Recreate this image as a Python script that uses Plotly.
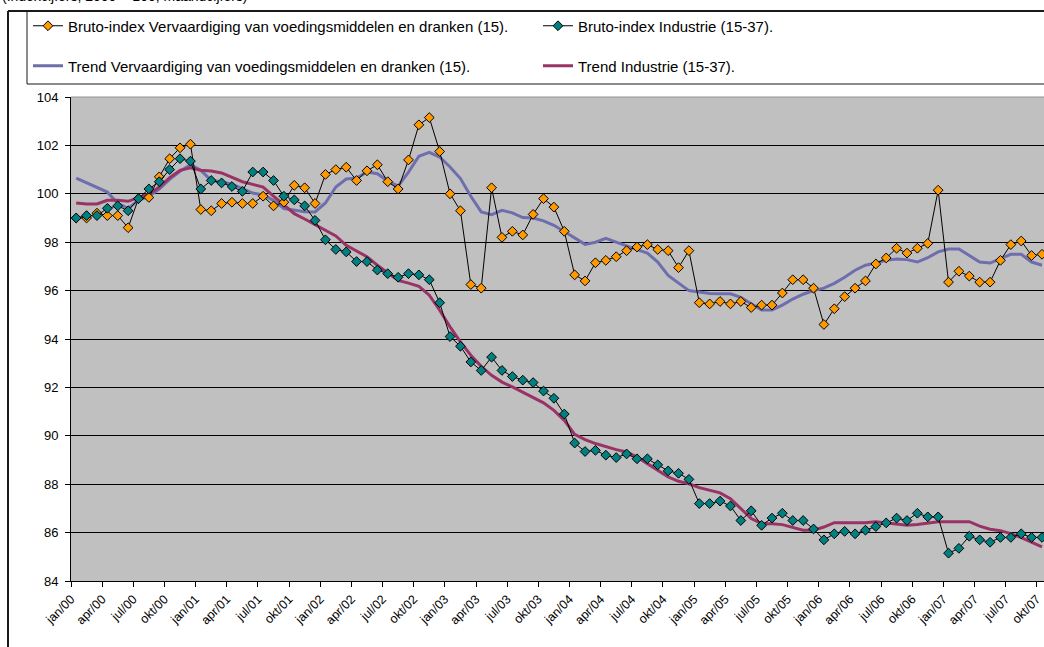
import plotly.graph_objects as go

# ---------------- data ----------------
month_names = ["jan", "feb", "mrt", "apr", "mei", "jun", "jul", "aug", "sep", "okt", "nov", "dec"]
years = ["00", "01", "02", "03", "04", "05", "06", "07"]
periods = [f"{m}/{y}" for y in years for m in month_names][:94]   # jan/00 .. okt/07

food_bruto = [
    99.0, 99.0, 99.2, 99.1, 99.1, 98.6, 99.8, 99.85, 100.7, 101.45, 101.9, 102.05,
    99.35, 99.3, 99.6, 99.65, 99.6, 99.6, 99.9, 99.5, 99.65, 100.35, 100.25, 99.6,
    100.8, 101.0, 101.1, 100.55, 100.95, 101.2, 100.5, 100.2, 101.4, 102.85, 103.15, 101.75,
    100.0, 99.3, 96.25, 96.1, 100.25, 98.2, 98.45, 98.3, 99.15, 99.8, 99.45, 98.45,
    96.65, 96.4, 97.15, 97.25, 97.4, 97.65, 97.8, 97.9, 97.7, 97.65, 96.95, 97.65,
    95.5, 95.45, 95.55, 95.45, 95.55, 95.3, 95.4, 95.4, 95.9, 96.45, 96.45, 96.1,
    94.6, 95.25, 95.75, 96.1, 96.4, 97.1, 97.35, 97.75, 97.55, 97.75, 97.95, 100.15,
    96.35, 96.8, 96.6, 96.35, 96.35, 97.25, 97.9, 98.05, 97.45, 97.5,
]
industry_bruto = [
    99.0, 99.1, 99.1, 99.4, 99.5, 99.3, 99.8, 100.2, 100.5, 101.0, 101.45, 101.35,
    100.2, 100.55, 100.45, 100.3, 100.1, 100.9, 100.9, 100.55, 99.9, 99.75, 99.5, 98.9,
    98.1, 97.7, 97.6, 97.2, 97.2, 96.85, 96.7, 96.55, 96.7, 96.65, 96.45, 95.5,
    94.1, 93.7, 93.05, 92.7, 93.25, 92.7, 92.45, 92.3, 92.2, 91.85, 91.55, 90.9,
    89.7, 89.35, 89.4, 89.2, 89.1, 89.25, 89.05, 89.05, 88.8, 88.55, 88.45, 88.2,
    87.2, 87.2, 87.3, 87.1, 86.5, 86.9, 86.3, 86.6, 86.8, 86.5, 86.5, 86.15,
    85.7, 85.95, 86.05, 85.95, 86.1, 86.25, 86.4, 86.6, 86.5, 86.8, 86.65, 86.65,
    85.15, 85.35, 85.85, 85.7, 85.6, 85.8, 85.8, 85.95, 85.8, 85.8,
]
food_trend = [
    100.65, 100.45, 100.25, 100.07, 99.6, 99.4, 99.73, 99.9, 100.2, 100.6, 100.93, 101.2,
    100.97, 100.56, 100.49, 100.4, 100.21, 100.03, 99.95, 99.73, 99.39, 99.32, 99.26, 99.25,
    99.62, 100.28, 100.61, 100.65, 100.9, 100.83, 100.53, 100.32, 100.9, 101.55, 101.71, 101.52,
    101.11, 100.63, 99.9, 99.25, 99.14, 99.32, 99.21, 99.02, 99.0, 98.88, 98.7, 98.44,
    98.17, 97.91, 98.0, 98.16, 98.0, 97.83, 97.69, 97.55, 97.18, 96.63, 96.3, 96.0,
    95.94, 95.88, 95.87, 95.87, 95.72, 95.45, 95.2, 95.2, 95.4, 95.65, 95.85, 96.0,
    96.1, 96.3, 96.55, 96.84, 97.05, 97.14, 97.25, 97.31, 97.28, 97.18, 97.36, 97.6,
    97.72, 97.72, 97.46, 97.18, 97.14, 97.32, 97.5, 97.5, 97.18, 97.05,
]
industry_trend = [
    99.62, 99.58, 99.58, 99.73, 99.73, 99.69, 99.84, 99.98, 100.28, 100.67, 100.97, 101.07,
    100.97, 100.94, 100.86, 100.67, 100.5, 100.39, 100.28, 99.9, 99.52, 99.18, 98.96, 98.73,
    98.49, 98.26, 97.87, 97.62, 97.4, 97.05, 96.73, 96.42, 96.31, 96.18, 95.81, 95.19,
    94.5, 93.88, 93.33, 92.87, 92.5, 92.22, 92.02, 91.81, 91.6, 91.36, 91.05, 90.64,
    90.06, 89.84, 89.68, 89.54, 89.43, 89.33, 89.12, 88.85, 88.57, 88.3, 88.12, 88.02,
    87.86, 87.75, 87.64, 87.4, 86.99, 86.58, 86.37, 86.37, 86.33, 86.21, 86.1, 86.1,
    86.23, 86.41, 86.41, 86.41, 86.41, 86.45, 86.4, 86.33, 86.3, 86.33, 86.4, 86.45,
    86.45, 86.45, 86.45, 86.27, 86.14, 86.08, 85.96, 85.79, 85.59, 85.41,
]

names = [
    "Bruto-index Vervaardiging van voedingsmiddelen en dranken (15).",
    "Bruto-index Industrie (15-37).",
    "Trend Vervaardiging van voedingsmiddelen en dranken (15).",
    "Trend Industrie (15-37).",
]
y_ticks = list(range(84, 105, 2))

# ---------------- layout helpers ----------------
W, H = 1044, 647
L, R, T, B = 71, 1044, 97, 581
PX_PER_MONTH = 10.385


def px(x):
    return (x - L) / (R - L)


def py(y):
    return (B - y) / (B - T)


FONT = "Liberation Sans, Arial, sans-serif"
x = list(range(len(periods)))
tick_idx = list(range(0, len(periods), 3))

fig = go.Figure()
fig.add_trace(go.Scatter(x=x, y=food_trend, name=names[2], mode="lines",
                         line=dict(color="#6E6EAE", width=3), legend="legend3"))
fig.add_trace(go.Scatter(x=x, y=industry_trend, name=names[3], mode="lines",
                         line=dict(color="#993366", width=3), legend="legend4"))
fig.add_trace(go.Scatter(x=x, y=food_bruto, name=names[0], mode="lines+markers",
                         line=dict(color="black", width=1),
                         marker=dict(symbol="diamond", size=7.5, color="#FF9900",
                                     line=dict(color="black", width=1)),
                         legend="legend"))
fig.add_trace(go.Scatter(x=x, y=industry_bruto, name=names[1], mode="lines+markers",
                         line=dict(color="black", width=1),
                         marker=dict(symbol="diamond", size=7.5, color="#008080",
                                     line=dict(color="black", width=1)),
                         legend="legend2"))

leg_common = dict(xanchor="left", yanchor="middle", bgcolor="rgba(0,0,0,0)",
                  borderwidth=0, font=dict(family=FONT, size=15, color="black"))

x_end = (R - L) / PX_PER_MONTH - 0.5

fig.update_layout(
    width=W, height=H,
    margin=dict(l=L, r=W - R, t=T, b=H - B, pad=0, autoexpand=False),
    paper_bgcolor="white",
    plot_bgcolor="#C0C0C0",
    font=dict(family=FONT, size=13, color="black"),
    showlegend=True,
    hovermode=False,
    legend=dict(x=px(28), y=py(26), **leg_common),
    legend2=dict(x=px(538), y=py(26), **leg_common),
    legend3=dict(x=px(28), y=py(66), **leg_common),
    legend4=dict(x=px(538), y=py(66), **leg_common),
    xaxis=dict(
        range=[-0.5, x_end], autorange=False, automargin=False,
        tickmode="array",
        tickvals=[i - 0.5 for i in tick_idx],
        ticktext=[periods[i] for i in tick_idx],
        tickangle=-45, ticks="outside", ticklen=5, tickcolor="black",
        tickfont=dict(family=FONT, size=12.5, color="black"),
        showgrid=False, zeroline=False,
        showline=True, linecolor="black", linewidth=1,
    ),
    yaxis=dict(
        range=[84, 104], autorange=False, automargin=False,
        tickmode="array", tickvals=y_ticks,
        ticks="outside", ticklen=5, tickcolor="black",
        tickfont=dict(family=FONT, size=13, color="black"),
        showgrid=True, gridcolor="black", gridwidth=1,
        zeroline=False,
        showline=True, linecolor="black", linewidth=1,
        ticklabelstandoff=4,
    ),
    shapes=[
        # gray top edge of plot area
        dict(type="line", xref="paper", yref="paper", x0=0, x1=1, y0=1, y1=1,
             line=dict(color="#909090", width=1), layer="above"),
        # chart area border (left + top)
        dict(type="line", xref="paper", yref="paper", x0=px(8), x1=px(8), y0=py(11), y1=py(660),
             line=dict(color="#1a1a1a", width=2)),
        dict(type="line", xref="paper", yref="paper", x0=px(8), x1=px(1050), y0=py(11), y1=py(11),
             line=dict(color="#1a1a1a", width=2)),
        # legend box
        dict(type="line", xref="paper", yref="paper", x0=px(27), x1=px(27), y0=py(11), y1=py(84),
             line=dict(color="#1a1a1a", width=1)),
        dict(type="line", xref="paper", yref="paper", x0=px(27), x1=px(1050), y0=py(84), y1=py(84),
             line=dict(color="#1a1a1a", width=1)),
    ],
    annotations=[
        dict(text="(Indexcijfers, 2000 = 100, maandcijfers)", xref="paper", yref="paper",
             x=px(0), y=py(6), xanchor="left", yanchor="bottom", showarrow=False,
             font=dict(family=FONT, size=14, color="black")),
    ],
)

fig.write_html(
    "out.html",
    config={"displayModeBar": False},
    post_script="document.body.style.margin='0px';document.body.style.overflow='hidden';",
)
